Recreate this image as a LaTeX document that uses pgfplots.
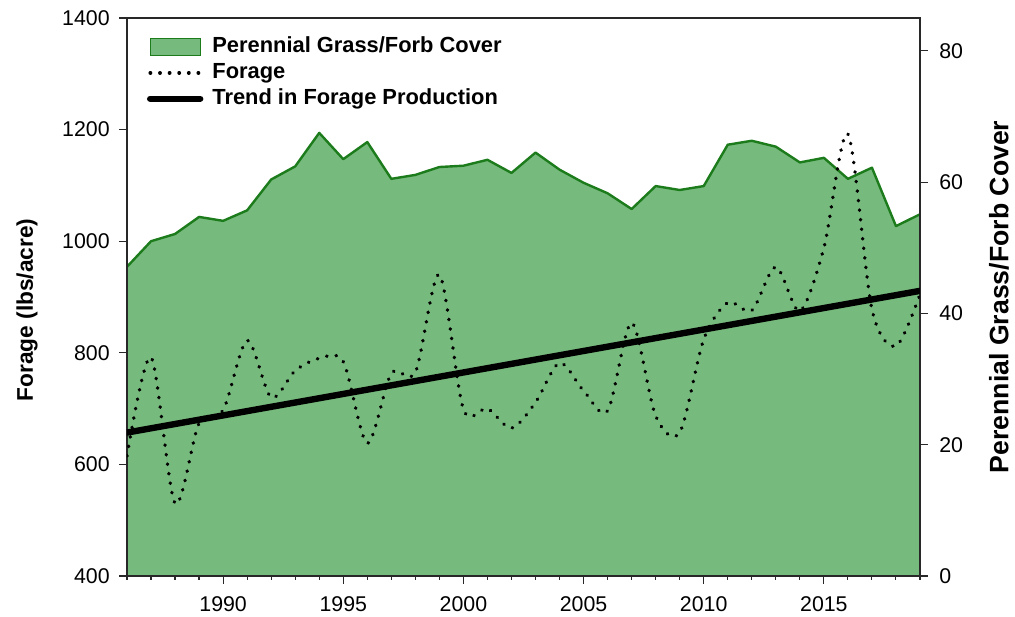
\documentclass[border=0pt]{standalone}
\usepackage{pgfplots}
\pgfplotsset{compat=1.18}
\usepackage{fontspec}
\setmainfont{Liberation Sans}
\definecolor{grassfill}{RGB}{119,186,125}
\definecolor{grassline}{RGB}{28,124,28}
\definecolor{axgray}{RGB}{40,40,40}

\pgfplotstableread{
year cover
1986 47.1
1987 51.0
1988 52.1
1989 54.7
1990 54.1
1991 55.7
1992 60.4
1993 62.4
1994 67.5
1995 63.5
1996 66.1
1997 60.5
1998 61.1
1999 62.3
2000 62.5
2001 63.4
2002 61.4
2003 64.5
2004 61.9
2005 59.9
2006 58.3
2007 55.9
2008 59.4
2009 58.8
2010 59.4
2011 65.7
2012 66.3
2013 65.4
2014 63.0
2015 63.7
2016 60.5
2017 62.2
2018 53.3
2019 55.1
}\covertable

\pgfplotstableread{
year forage
1986 615
1987 792
1988 530
1989 674
1990 697
1991 822
1992 720
1993 768
1994 790
1995 784
1996 638
1997 763
1998 765
1999 940
2000 699
2001 700
2002 665
2003 711
2004 782
2005 732
2006 696
2007 854
2008 687
2009 657
2010 824
2011 890
2012 876
2013 954
2014 875
2015 988
2016 1192
2017 878
2018 812
2019 905
}\foragetable

\begin{document}
\begin{tikzpicture}
\useasboundingbox (-95.25pt,-30.75pt) rectangle (666pt,432pt);
\pgfplotsset{
  common/.style={
    scale only axis, width=594.75pt, height=418.5pt,
    at={(0pt,0pt)}, anchor=south west,
    xmin=1986, xmax=2019,
    tick label style={font=\fontsize{16}{19}\selectfont},
    /pgf/number format/assume math mode=true,
    /pgf/number format/1000 sep={},
    axis line style={line width=0.9pt, axgray},
    major tick length=6pt, minor tick length=3pt,
    every tick/.style={line width=0.9pt, axgray},
    tick align=outside,
    label style={font=\bfseries\fontsize{17}{20}\selectfont},
  }
}
\begin{axis}[common,
  ymin=0, ymax=85,
  hide x axis,
  axis y line*=right,
  ytick={0,20,40,60,80},
  yticklabel style={xshift=5pt},
  ylabel={Perennial Grass/Forb Cover},
  ylabel style={at={(axis description cs:1.0996,0.5)}, anchor=center, rotate=0, font=\bfseries\fontsize{20}{23}\selectfont},
]
\addplot[fill=grassfill, draw=none] table[x=year, y=cover] {\covertable} \closedcycle;
\addplot[grassline, line width=1.8pt, line join=round] table[x=year, y=cover] {\covertable};
\end{axis}

\begin{axis}[common,
  ymin=400, ymax=1400,
  ytick={400,600,800,1000,1200,1400},
  xtick={1990,1995,2000,2005,2010,2015},
  minor xtick={1986,1987,...,2019},
  xtick pos=left, ytick pos=left,
  xticklabel style={yshift=-6pt},
  yticklabel style={xshift=-3.5pt},
  ylabel={Forage (lbs/acre)},
  ylabel style={at={(axis description cs:-0.1261,0.477)}, anchor=center},
  legend image code/.code={\draw[#1] (0pt,0pt) -- (37.5pt,0pt);},
  legend cell align=left,
  legend style={at={(axis description cs:0,1)}, anchor=north west,
    xshift=15pt, yshift=-13.75pt, inner sep=0pt, outer sep=0pt,
    draw=none, fill=none, row sep=3.4pt, column sep=6.75pt,
    font=\bfseries\fontsize{16.4}{19}\selectfont,
    nodes={inner sep=0pt, text height=12pt, text depth=4pt}},
]
\addlegendimage{legend image code/.code={\draw[fill=grassfill, draw=grassline, line width=0.8pt] (0pt,-6.3pt) rectangle (37.5pt,6.3pt);}}
\addlegendentry{Perennial Grass/Forb Cover}
\addplot[black, smooth, tension=0.5, line width=2.6pt, line cap=round, dash pattern=on 0.3pt off 6.9pt] table[x=year, y=forage] {\foragetable};
\addlegendentry{Forage}
\addplot[black, line width=4.8pt, line cap=round] coordinates {(1986,657) (2019,911)};
\addlegendentry{Trend in Forage Production}
\end{axis}
\end{tikzpicture}
\end{document}
